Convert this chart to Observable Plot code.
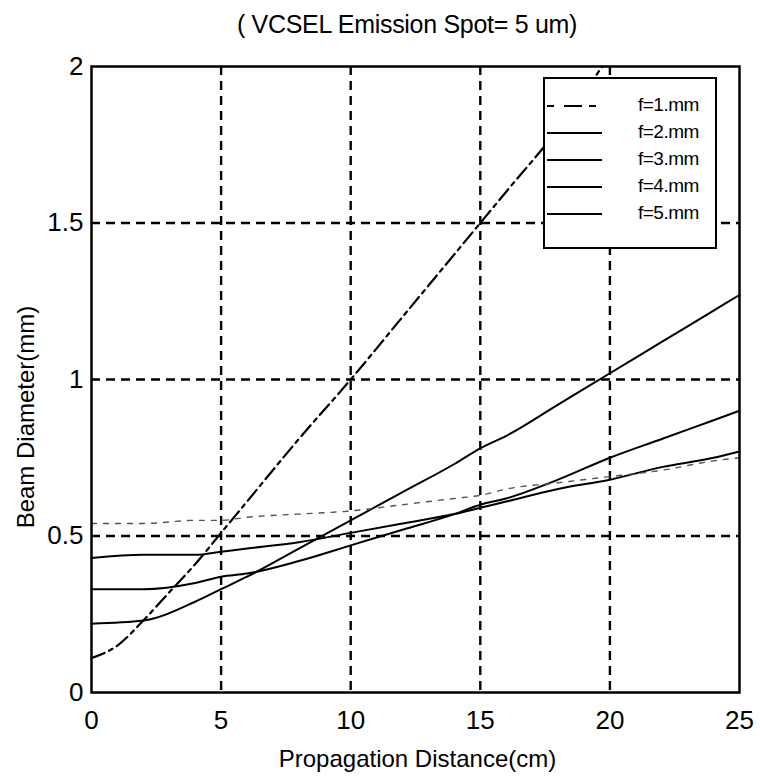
<!DOCTYPE html>
<html>
<head>
<meta charset="utf-8">
<script src="https://cdn.jsdelivr.net/npm/d3@7"></script>
<script src="https://cdn.jsdelivr.net/npm/@observablehq/plot@0.6"></script>
<style>
  html, body { margin: 0; padding: 0; background: #fff; }
  #wrap { position: relative; width: 760px; height: 777px; font-family: "Liberation Sans", Arial, sans-serif; color: #000; }
  #wrap svg { position: absolute; left: 0; top: 0; }
  .title { position: absolute; left: 0; top: 12px; width: 814px; text-align: center; font-size: 25px; line-height: 25px; letter-spacing: -0.3px; }
  .xlabel { position: absolute; left: 0; top: 747px; width: 835px; text-align: center; font-size: 24px; line-height: 24px; }
  .ylabel { position: absolute; width: 300px; height: 24px; left: -124px; top: 405px; text-align: center; font-size: 24px; line-height: 24px; transform: rotate(-90deg); transform-origin: 50% 50%; }
  .legend { position: absolute; left: 543px; top: 77px; width: 170px; height: 168px; border: 2px solid #000; background: #fff; }
  .legend .row { position: absolute; left: 0; width: 170px; height: 24px; }
  .legend svg { position: absolute; left: 8px; top: 0; }
  .legend span { position: absolute; left: 93px; top: 0; font-size: 19px; line-height: 24px; letter-spacing: -0.5px; }
</style>
</head>
<body>
<div id="wrap"></div>
<script>
// Series names (focal length)
const series = ["f=1.mm", "f=2.mm", "f=3.mm", "f=4.mm", "f=5.mm"];

// f = 1 mm (dash-dot), read until it leaves the top of the axes
const xF1 = [0, 1, 2, 3, 4, 5, 6, 8, 10, 12, 14, 16, 18, 19.7];
const dF1 = [0.11, 0.15, 0.23, 0.32, 0.41, 0.51, 0.61, 0.81, 1.00, 1.20, 1.40, 1.60, 1.80, 2.00];

// shared distances for f = 2..5 mm
const xDist = [0, 2, 4, 5, 6, 8, 10, 12, 14, 15, 16, 18, 20, 22, 24, 25];
const dF2 = [0.22, 0.23, 0.29, 0.33, 0.37, 0.46, 0.55, 0.64, 0.73, 0.78, 0.82, 0.92, 1.02, 1.12, 1.22, 1.27];
const dF3 = [0.33, 0.33, 0.35, 0.37, 0.38, 0.42, 0.47, 0.52, 0.57, 0.60, 0.62, 0.68, 0.75, 0.81, 0.87, 0.90];
const dF4 = [0.43, 0.44, 0.44, 0.45, 0.46, 0.48, 0.51, 0.54, 0.57, 0.59, 0.61, 0.65, 0.68, 0.72, 0.75, 0.77];
const dF5 = [0.54, 0.54, 0.55, 0.55, 0.56, 0.57, 0.58, 0.60, 0.62, 0.63, 0.65, 0.67, 0.69, 0.71, 0.74, 0.75];

const xTicks = [0, 5, 10, 15, 20, 25];
const yTicks = [0, 0.5, 1, 1.5, 2];
const xGrid = [5, 10, 15, 20];
const yGrid = [0.5, 1, 1.5];

const titleText = "( VCSEL Emission Spot= 5 um)";
const xLabelText = "Propagation Distance(cm)";
const yLabelText = "Beam Diameter(mm)";

const styles = [
  {stroke: "#000", strokeWidth: 2.2, strokeDasharray: "14,5,4,5"},
  {stroke: "#000", strokeWidth: 2},
  {stroke: "#000", strokeWidth: 2},
  {stroke: "#000", strokeWidth: 2},
  {stroke: "#555", strokeWidth: 1.4, strokeDasharray: "5,7"}
];

const rows = [];
xF1.forEach((x, i) => rows.push({series: series[0], x, d: dF1[i]}));
[dF2, dF3, dF4, dF5].forEach((arr, k) => xDist.forEach((x, i) => rows.push({series: series[k + 1], x, d: arr[i]})));

const plot = Plot.plot({
  width: 760,
  height: 777,
  marginLeft: 91,
  marginRight: 21,
  marginTop: 66,
  marginBottom: 85,
  style: {fontFamily: "'Liberation Sans', Arial, sans-serif", fontSize: "26px", background: "transparent", color: "#000"},
  x: {domain: [0, 25]},
  y: {domain: [0, 2]},
  marks: [
    Plot.ruleX(xGrid, {stroke: "#000", strokeWidth: 2.4, strokeDasharray: "9,6"}),
    Plot.ruleY(yGrid, {stroke: "#000", strokeWidth: 2.4, strokeDasharray: "9,6"}),
    ...series.map((s, k) => Plot.line(rows.filter(r => r.series === s), {x: "x", y: "d", ...styles[k], curve: "monotone-x"})),
    Plot.frame({stroke: "#000", strokeWidth: 2.5}),
    Plot.axisX({ticks: xTicks, tickSize: 0, tickPadding: 18, label: null, fontSize: 26, tickFormat: d => String(d)}),
    Plot.axisY({ticks: yTicks, tickSize: 0, tickPadding: 8, label: null, fontSize: 26, tickFormat: d => String(d)})
  ]
});

const wrap = document.getElementById("wrap");
wrap.appendChild(plot);

const t = document.createElement("div"); t.className = "title"; t.textContent = titleText; wrap.appendChild(t);
const xl = document.createElement("div"); xl.className = "xlabel"; xl.textContent = xLabelText; wrap.appendChild(xl);
const yl = document.createElement("div"); yl.className = "ylabel"; yl.textContent = yLabelText; wrap.appendChild(yl);

const lg = document.createElement("div"); lg.className = "legend";
series.forEach((s, k) => {
  const row = document.createElement("div"); row.className = "row";
  row.style.top = (14 + 27 * k) + "px";
  row.innerHTML = `<svg width="60" height="24"><line x1="2" x2="57" y1="13" y2="13" stroke="#000" stroke-width="2" ${k === 0 ? 'stroke-dasharray="7,10,18,7,7"' : ''}/></svg><span>${s}</span>`;
  lg.appendChild(row);
});
wrap.appendChild(lg);
</script>
</body>
</html>
